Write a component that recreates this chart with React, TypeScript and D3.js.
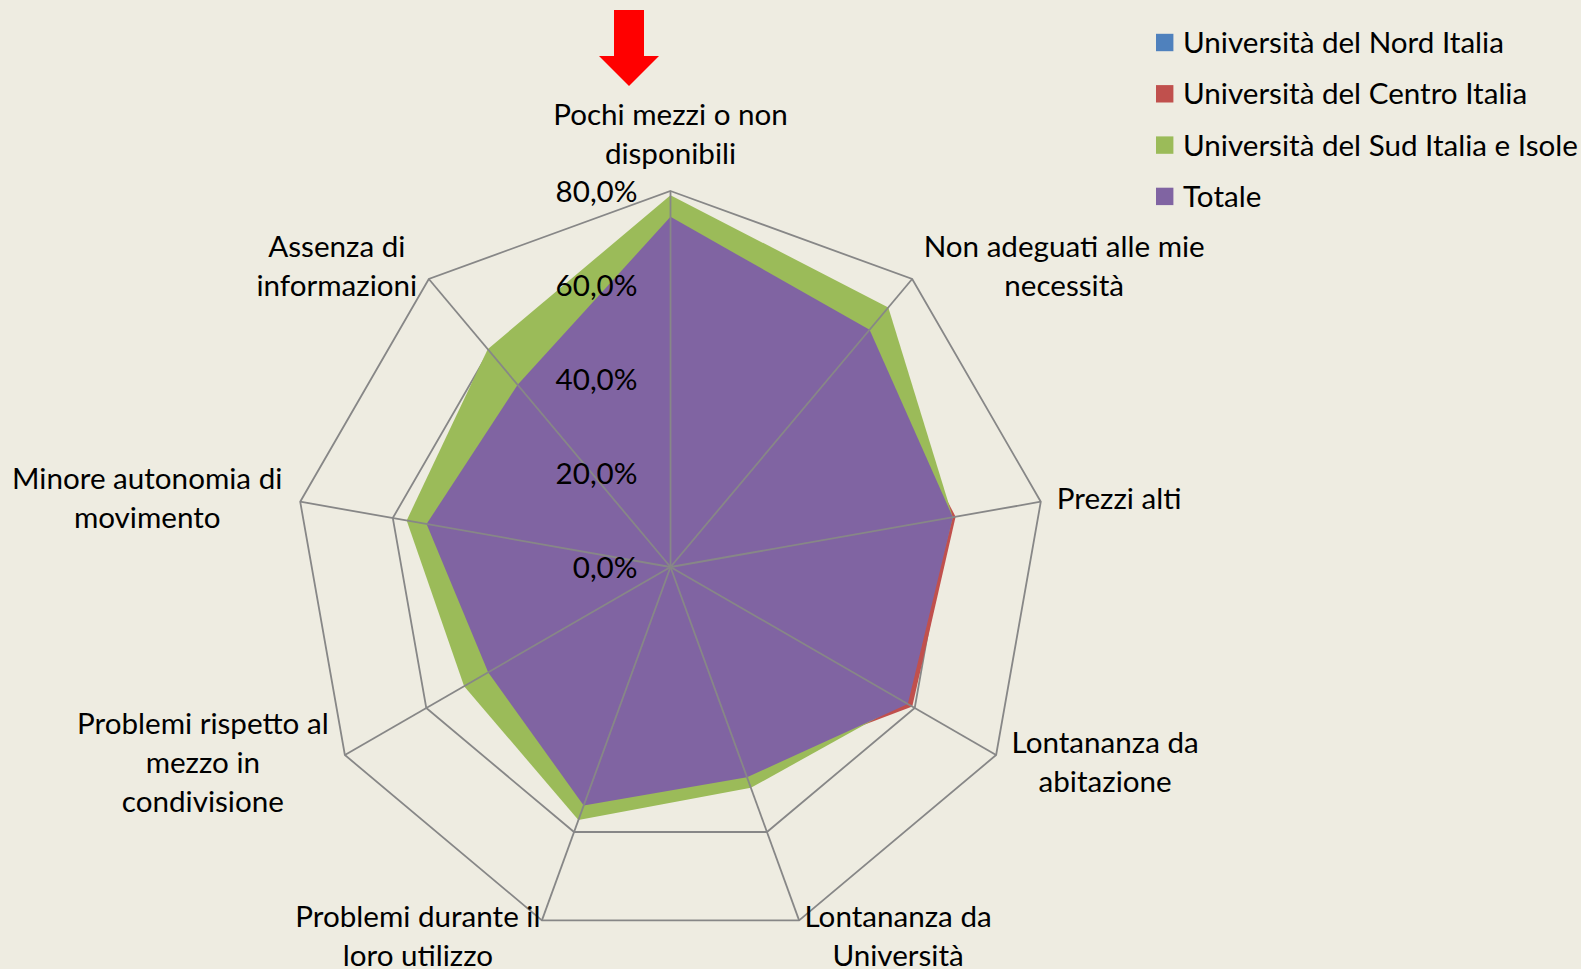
import React from 'react';
import * as d3 from 'd3';

const categories: string[] = [
  'Pochi mezzi o non\ndisponibili',
  'Non adeguati alle mie\nnecessità',
  'Prezzi alti',
  'Lontananza da\nabitazione',
  'Lontananza da\nUniversità',
  'Problemi durante il\nloro utilizzo',
  'Problemi rispetto al\nmezzo in\ncondivisione',
  'Minore autonomia di\nmovimento',
  'Assenza di\ninformazioni',
];

const nord: number[] = [70.5, 62.0, 58.5, 55.5, 45.0, 51.0, 41.5, 49.5, 47.0];
const centro: number[] = [72.0, 63.5, 61.6, 59.4, 46.0, 52.0, 43.0, 51.0, 48.5];
const sud: number[] = [79.1, 72.1, 61.0, 57.6, 50.0, 57.3, 50.7, 57.0, 60.5];
const totale: number[] = [74.5, 65.9, 61.0, 58.3, 47.6, 54.0, 44.8, 52.7, 50.6];

const seriesNames: string[] = [
  'Università del Nord Italia',
  'Università del Centro Italia',
  'Università del Sud Italia e Isole',
  'Totale',
];
const seriesValues: number[][] = [nord, centro, sud, totale];
const seriesColors: string[] = ['#4F81BD', '#C0504D', '#9BBB59', '#8064A2'];

const tickValues: number[] = [0, 20, 40, 60, 80];
const tickLabels: string[] = ['0,0%', '20,0%', '40,0%', '60,0%', '80,0%'];

// layout (positions only)
const W = 1581;
const H = 969;
const CX = 670.5;
const CY = 567;
const R = 376;
const FONT = "Lato, 'Open Sans', sans-serif";
const FS = 29.6;
const LINE_H = 39;
const labelOffsets: [number, number, string][] = [
  [0, -58, 'middle'],
  [152, -14, 'middle'],
  [16, -4.5, 'start'],
  [109, 6, 'middle'],
  [99, 14.5, 'middle'],
  [-124, 14.5, 'middle'],
  [-142, 6.5, 'middle'],
  [-153, -4.5, 'middle'],
  [-92, -14, 'middle'],
];

export default function App() {
  const n = categories.length;
  const r = d3.scaleLinear().domain([0, 80]).range([0, R]);
  const angle = d3.scaleLinear().domain([0, n]).range([0, 2 * Math.PI]);
  const radial = d3
    .lineRadial<number>()
    .angle((_d, i) => angle(i))
    .radius((d) => r(d))
    .curve(d3.curveLinearClosed);
  const pt = (i: number, v: number): [number, number] => [
    CX + r(v) * Math.sin(angle(i)),
    CY - r(v) * Math.cos(angle(i)),
  ];
  const grid = '#878787';

  return (
    <div style={{ position: 'absolute', left: 0, top: 0 }}>
      <svg width={W} height={H} style={{ display: 'block' }}>
        <rect x={0} y={0} width={W} height={H} fill="#EEECE1" />
        <g transform={`translate(${CX},${CY})`}>
          {tickValues
            .filter((t) => t > 0)
            .map((t) => (
              <path
                key={'ring' + t}
                d={radial(categories.map(() => t)) || ''}
                fill="none"
                stroke={grid}
                strokeWidth={1.8}
              />
            ))}
          {seriesValues.map((vals, s) => (
            <path key={'s' + s} d={radial(vals) || ''} fill={seriesColors[s]} stroke="none" />
          ))}
        </g>
        {categories.map((_c, i) => {
          const [x, y] = pt(i, 80);
          return <line key={'sp' + i} x1={CX} y1={CY} x2={x} y2={y} stroke={grid} strokeWidth={1.8} />;
        })}
        {tickValues.map((t, i) => (
          <text
            key={'t' + t}
            x={CX - 33}
            y={CY - r(t) - 1}
            textAnchor="end"
            dominantBaseline="central"
            fontFamily={FONT}
            fontSize={FS}
            fill="#000"
          >
            {tickLabels[i]}
          </text>
        ))}
        {categories.map((c, i) => {
          const [vx, vy] = pt(i, 80);
          const lines = c.split('\n');
          const [dx, dy, anchor] = labelOffsets[i];
          const cy0 = vy + dy - ((lines.length - 1) * LINE_H) / 2;
          return (
            <text
              key={'lab' + i}
              textAnchor={anchor as any}
              fontFamily={FONT}
              fontSize={FS}
              fill="#000"
            >
              {lines.map((l, k) => (
                <tspan key={k} x={vx + dx} y={cy0 + k * LINE_H} dominantBaseline="central">
                  {l}
                </tspan>
              ))}
            </text>
          );
        })}
        {seriesNames.map((name, s) => {
          const y = 42 + s * 51.3;
          return (
            <g key={'lg' + s}>
              <rect x={1156} y={y - 8.2} width={17.4} height={17.4} fill={seriesColors[s]} />
              <text x={1183} y={y - 0.5} dominantBaseline="central" fontFamily={FONT} fontSize={FS} fill="#000">
                {name}
              </text>
            </g>
          );
        })}
        <path d="M614,10 L644,10 L644,56 L659,56 L629,86 L599,56 L614,56 Z" fill="#FF0000" />
      </svg>
    </div>
  );
}
